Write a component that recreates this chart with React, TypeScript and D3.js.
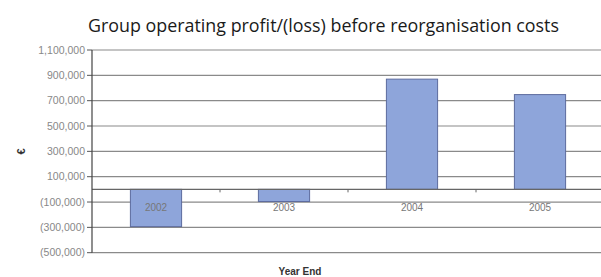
import React from "react";
import * as d3 from "d3";

const categories = ["2002", "2003", "2004", "2005"];
const profits = [-294000, -96000, 870000, 748000];
const tickValues = [1100000, 900000, 700000, 500000, 300000, 100000, -100000, -300000, -500000];
const title = "Group operating profit/(loss) before reorganisation costs";
const xTitle = "Year End";
const yTitle = "€";

const W = 601;
const H = 277;

export default function App() {
  const x = d3.scaleBand<string>().domain(categories).range([92, 604]).paddingInner(0.6).paddingOuter(0.3);
  const y = d3.scaleLinear().domain([-500000, 1100000]).range([252.7, 50]);
  const fmt = (v: number) => (v < 0 ? `(${d3.format(",")(-v)})` : d3.format(",")(v));
  const y0 = y(0);
  const step = x.step();
  return (
    <svg width={W} height={H} style={{ position: "absolute", left: 0, top: 0, background: "#fff" }}>
      <rect x={0} y={0} width={W} height={H} fill="#fff" />
      <text x={88} y={32} textAnchor="start" textLength={471} lengthAdjust="spacingAndGlyphs"
        fontFamily="'Open Sans', sans-serif" fontSize={18} fill="#1a1a1a">
        {title}
      </text>
      {tickValues.map((t) => (
        <g key={t}>
          <line x1={92} x2={W} y1={y(t)} y2={y(t)} stroke="#8a8a8a" strokeWidth={1.2} />
          <line x1={87} x2={92} y1={y(t)} y2={y(t)} stroke="#555" strokeWidth={1} />
          <text x={85} y={y(t) + 3.5} textAnchor="end" fontFamily="'Liberation Sans', Arial, sans-serif" fontSize={10.5} fill="#888">
            {fmt(t)}
          </text>
        </g>
      ))}
      {categories.map((c, i) => {
        const v = profits[i];
        const bx = x(c) as number;
        return (
          <rect key={c} x={bx} width={x.bandwidth()} y={Math.min(y(v), y0)} height={Math.abs(y(v) - y0)}
            fill="#8ea5da" stroke="#5d6b9e" strokeWidth={1} />
        );
      })}
      <line x1={92} x2={W} y1={y0} y2={y0} stroke="#666" strokeWidth={1.2} />
      {categories.map((c, i) => (
        <line key={"t" + c} x1={92 + step * (i + 1)} x2={92 + step * (i + 1)} y1={y0} y2={y0 + 3} stroke="#666" />
      ))}
      <line x1={92} x2={92} y1={50} y2={252.7} stroke="#444" strokeWidth={1.2} />
      {categories.map((c) => (
        <text key={"l" + c} x={(x(c) as number) + x.bandwidth() / 2} y={211} textAnchor="middle"
          fontFamily="'Liberation Sans', Arial, sans-serif" fontSize={10} fill="#777">
          {c}
        </text>
      ))}
      <text x={300} y={275} textAnchor="middle" fontFamily="'Liberation Sans', Arial, sans-serif" fontSize={10} fontWeight="bold" fill="#333">
        {xTitle}
      </text>
      <text transform={`translate(25,${y(300000)}) rotate(-90)`} textAnchor="middle" fontFamily="'Liberation Sans', Arial, sans-serif"
        fontSize={11} fontWeight="bold" fill="#333">
        {yTitle}
      </text>
    </svg>
  );
}
